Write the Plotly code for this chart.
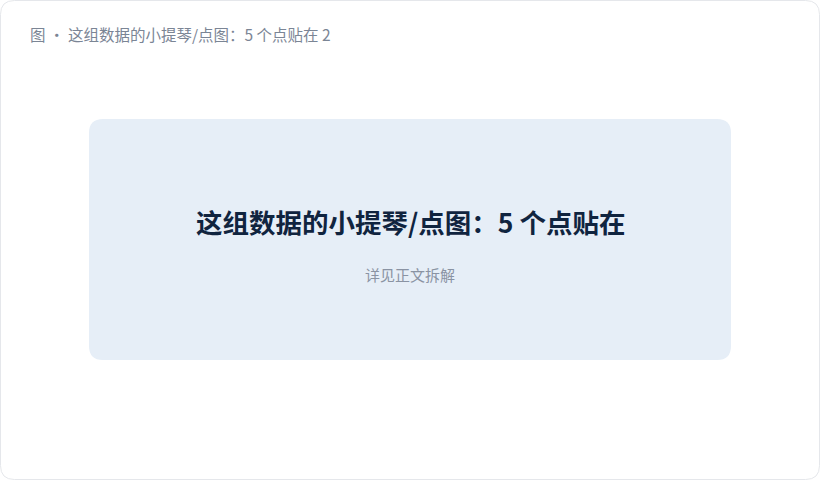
import plotly.graph_objects as go

# Content (no numeric series in this placeholder chart)
header_text = ["图 · 这组数据的小提琴/点图：5 个点贴在 2"]
card_title = ["这组数据的小提琴/点图：5 个点贴在"]
card_subtitle = ["详见正文拆解"]

W, H = 820, 480
FONT = "Noto Sans CJK SC, Noto Sans, sans-serif"


def rounded_rect(x0, y0, x1, y1, r):
    return (f"M {x0+r},{y0} L {x1-r},{y0} Q {x1},{y0} {x1},{y0+r} "
            f"L {x1},{y1-r} Q {x1},{y1} {x1-r},{y1} L {x0+r},{y1} "
            f"Q {x0},{y1} {x0},{y1-r} L {x0},{y0+r} Q {x0},{y0} {x0+r},{y0} Z")


fig = go.Figure()

fig.add_shape(type="path", xref="x", yref="y",
              path=rounded_rect(0.5, 0.5, W - 0.5, H - 0.5, 14),
              line=dict(color="#e5e7eb", width=1), fillcolor="#ffffff", layer="below")
fig.add_shape(type="path", xref="x", yref="y",
              path=rounded_rect(89, 119, 731, 360, 14),
              line=dict(width=0), fillcolor="#e6eef7", layer="below")

fig.add_annotation(x=28, y=34, xref="x", yref="y", text=header_text[0],
                   showarrow=False, xanchor="left", yanchor="middle",
                   font=dict(family=FONT, size=15.5, color="#7b8595"))
fig.add_annotation(x=410, y=221, xref="x", yref="y", text="<b>" + card_title[0] + "</b>",
                   showarrow=False, xanchor="center", yanchor="middle",
                   font=dict(family=FONT, size=26.5, color="#10243f"))
fig.add_annotation(x=410, y=274, xref="x", yref="y", text=card_subtitle[0],
                   showarrow=False, xanchor="center", yanchor="middle",
                   font=dict(family=FONT, size=15, color="#8a93a3"))

fig.update_layout(
    width=W, height=H, margin=dict(l=0, r=0, t=0, b=0),
    paper_bgcolor="#ffffff", plot_bgcolor="rgba(0,0,0,0)",
    xaxis=dict(range=[0, W], visible=False, fixedrange=True),
    yaxis=dict(range=[H, 0], visible=False, fixedrange=True),
    showlegend=False,
)

fig.write_html("out.html", config={"displayModeBar": False},
               post_script="document.body.style.margin='0';document.body.style.overflow='hidden';")
